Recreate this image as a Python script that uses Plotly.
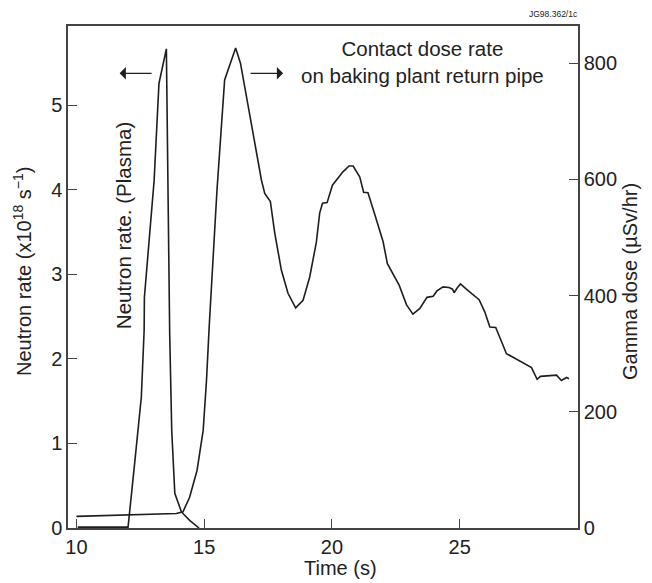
import plotly.graph_objects as go

# Neutron rate (plasma), x10^18 s^-1, left axis
neutron_t = [10.05, 12.02, 12.28, 12.41, 12.54, 12.65, 12.66, 13.04, 13.23, 13.52,
             13.59, 13.65, 13.73, 13.85, 14.11, 14.43, 14.80]
neutron_v = [0.01, 0.01, 0.77, 1.16, 1.55, 2.34, 2.73, 4.11, 5.26, 5.67,
             3.99, 2.30, 1.15, 0.41, 0.19, 0.09, 0.0]

# Gamma dose (uSv/hr), right axis
gamma_t = [10.0, 13.91, 14.17, 14.43, 14.72, 14.83, 14.96, 15.09, 15.2, 15.5, 15.8,
           16.23, 16.42, 17.24, 17.33, 17.37, 17.59, 17.76, 18.02, 18.28, 18.58,
           18.87, 19.13, 19.39, 19.52, 19.63, 19.81, 20.02, 20.43, 20.67, 20.83,
           21.09, 21.24, 21.41, 21.68, 22.0, 22.17, 22.63, 22.92, 23.17, 23.44,
           23.72, 23.96, 24.11, 24.35, 24.58, 24.72, 24.78, 24.9, 25.03, 25.26,
           25.52, 25.76, 25.98, 26.18, 26.41, 26.83, 27.09, 27.81, 28.03, 28.16,
           28.79, 28.98, 29.18, 29.28]
gamma_v = [20, 25, 28, 53, 99, 134, 168, 254, 350, 581, 771,
           826, 800, 599, 581, 576, 562, 508, 444, 404, 379,
           392, 432, 492, 542, 559, 560, 590, 613, 623, 623,
           604, 578, 577, 539, 493, 455, 418, 384, 368, 378,
           397, 399, 408, 415, 414, 411, 405, 413, 420, 411,
           401, 393, 372, 346, 345, 300, 294, 276, 256, 261,
           263, 254, 259, 257]

x_ticks = [10, 15, 20, 25]
y_left_ticks = [0, 1, 2, 3, 4, 5]
y_right_ticks = [0, 200, 400, 600, 800]

FONT = "Liberation Sans, Arial, sans-serif"
LINE = "#1e1e1e"
AX = "#444444"
FS = 20

fig = go.Figure()
fig.add_trace(go.Scatter(x=neutron_t, y=neutron_v, mode="lines",
                         line=dict(color=LINE, width=1.6), yaxis="y",
                         showlegend=False, hoverinfo="skip"))
fig.add_trace(go.Scatter(x=gamma_t, y=gamma_v, mode="lines",
                         line=dict(color=LINE, width=1.6), yaxis="y2",
                         showlegend=False, hoverinfo="skip"))

axis_common = dict(showgrid=False, zeroline=False, showline=True, linecolor=AX,
                   linewidth=1.5, ticks="inside", ticklen=9, tickcolor=AX,
                   tickwidth=1.2, automargin=False,
                   tickfont=dict(size=FS, color="#222"))

annotations = [
    dict(text="Time (s)", x=0.535, y=0, xref="paper", yref="paper",
         yshift=-40, xanchor="center", yanchor="middle", showarrow=False,
         font=dict(size=FS)),
    dict(text="Neutron rate (x10<sup>18</sup> s<sup>−1</sup>)", x=0, y=0.51,
         xref="paper", yref="paper", xshift=-45, textangle=-90,
         xanchor="center", yanchor="middle", showarrow=False, font=dict(size=FS)),
    dict(text="Gamma dose (µSv/hr)", x=1, y=0.49, xref="paper", yref="paper",
         xshift=52, textangle=-90, xanchor="center", yanchor="middle",
         showarrow=False, font=dict(size=FS)),
    dict(text="Contact dose rate<br>on baking plant return pipe", x=23.55, y=802,
         xref="x", yref="y2", showarrow=False, xanchor="center", yanchor="middle",
         align="center", font=dict(size=20.5)),
    dict(text="Neutron rate. (Plasma)", x=11.85, y=3.58, xref="x", yref="y",
         showarrow=False, textangle=-90, xanchor="center", yanchor="middle",
         font=dict(size=20.5)),
    dict(text="JG98.362/1c", x=1.0, y=1.0, xref="paper", yref="paper",
         yshift=12, xshift=2, xanchor="right", yanchor="middle", showarrow=False,
         font=dict(size=8.5)),
    dict(x=11.69, y=5.38, ax=13.0, ay=5.38, xref="x", yref="y", axref="x", ayref="y",
         text="", showarrow=True, arrowhead=1, arrowsize=1.6, arrowwidth=1.3,
         arrowcolor=LINE),
    dict(x=18.09, y=5.38, ax=16.76, ay=5.38, xref="x", yref="y", axref="x", ayref="y",
         text="", showarrow=True, arrowhead=1, arrowsize=1.6, arrowwidth=1.3,
         arrowcolor=LINE),
]

# The page body adds an 8px margin, so the figure is sized to fit the window.
fig.update_layout(
    width=644, height=575,
    margin=dict(l=60, r=74, t=18, b=55),
    paper_bgcolor="white", plot_bgcolor="white",
    font=dict(family=FONT, color="#222"),
    xaxis=dict(range=[9.67, 29.63], tickvals=x_ticks, mirror=True, **axis_common),
    yaxis=dict(range=[0, 5.94], tickvals=y_left_ticks, **axis_common),
    yaxis2=dict(range=[0, 864], tickvals=y_right_ticks, overlaying="y",
                side="right", **axis_common),
    annotations=annotations,
)

fig.write_html("out.html")
